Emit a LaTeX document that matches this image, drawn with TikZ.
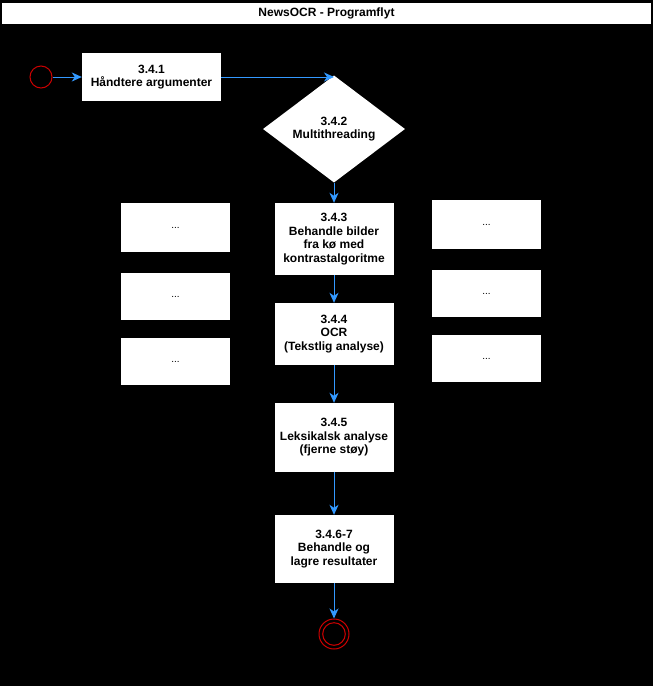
\documentclass[tikz,border=0pt]{standalone}
\usepackage{fontspec}
\setmainfont{Liberation Sans}
\usetikzlibrary{shapes.geometric,arrows.meta,positioning}
\definecolor{flowblue}{RGB}{51,153,255}
\definecolor{stopred}{RGB}{204,0,0}

\begin{document}
\begin{tikzpicture}[x=1pt, y=-1pt,
    stepbox/.style={rectangle, fill=white, align=center, inner sep=2pt,
        font=\bfseries\fontsize{12}{13.5}\selectfont},
    sidebox/.style={rectangle, fill=white, minimum width=109pt, inner sep=0pt,
        font=\fontsize{10}{12}\selectfont},
    flow/.style={flowblue, line width=1pt, -{Stealth[length=10pt, width=9pt, inset=3pt]}}]
    % Background and title
    \fill[black] (0,0) rectangle (653,686);
    \useasboundingbox (0,0) rectangle (653,686);
    \node[fill=white, minimum width=649pt, minimum height=21pt, inner sep=0pt,
        font=\bfseries\fontsize{12}{13.5}\selectfont] (title) at (326.5,13.75) {NewsOCR - Programflyt};

    % Start and argument handling
    \node[circle, draw=stopred, line width=1pt, minimum size=22pt, inner sep=0pt] (start) at (41,77) {};
    \node[stepbox, minimum width=139pt, minimum height=48pt] (args) at (151.5,77) {3.4.1\\Håndtere argumenter};
    \node[diamond, fill=white, minimum width=142pt, minimum height=102pt, inner sep=0pt,
        font=\bfseries\fontsize{12}{13.5}\selectfont, align=center] (threads) at (334,129) {3.4.2\\Multithreading};

    % Main column
    \node[stepbox, minimum width=119pt, minimum height=72pt] (contrast) at (334,239) {3.4.3\\Behandle bilder\\fra kø med\\kontrastalgoritme};
    \node[stepbox, minimum width=119pt, minimum height=62pt] (ocr) at (334,334) {3.4.4\\OCR\\(Tekstlig analyse)};
    \node[stepbox, minimum width=119pt, minimum height=69pt] (lexical) at (334,437.5) {3.4.5\\Leksikalsk analyse\\(fjerne støy)};
    \node[stepbox, minimum width=119pt, minimum height=68pt] (results) at (334,549) {3.4.6-7\\Behandle og\\lagre resultater};
    \node[circle, draw=stopred, line width=1pt, minimum size=30pt, inner sep=0pt] (stop) at (334,634) {};
    \draw[stopred, line width=1pt] (stop.center) circle (11.3);

    % Parallel threads
    \node[sidebox, minimum height=49pt] (left1) at (175.5,227.5) {...};
    \node[sidebox, minimum height=47pt] (left2) at (175.5,296.5) {...};
    \node[sidebox, minimum height=47pt] (left3) at (175.5,361.5) {...};
    \node[sidebox, minimum height=49pt] (right1) at (486.5,224.5) {...};
    \node[sidebox, minimum height=47pt] (right2) at (486.5,293.5) {...};
    \node[sidebox, minimum height=47pt] (right3) at (486.5,358.5) {...};

    % Connectors
    \draw[flow] (start) -- (args);
    \draw[flow] (args.east) -- (args.east -| threads.north);
    \draw[flow] (threads.south) -- (contrast.north);
    \draw[flow] (contrast) -- (ocr);
    \draw[flow] (ocr) -- (lexical);
    \draw[flow] (lexical) -- (results);
    \draw[flow] (results) -- (stop);
\end{tikzpicture}
\end{document}
